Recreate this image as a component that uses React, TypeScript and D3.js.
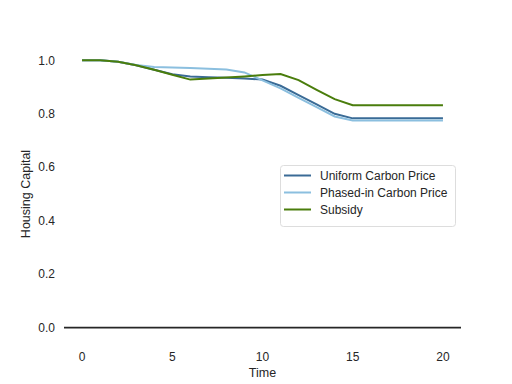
import React, { useRef, useEffect } from 'react'
import * as d3 from 'd3'

// time steps 0..20
const time = [0, 1, 2, 3, 4, 5, 6, 7, 8, 9, 10, 11, 12, 13, 14, 15, 16, 17, 18, 19, 20]
const uniform = [1.0, 1.0, 0.995, 0.982, 0.965, 0.948, 0.94, 0.937, 0.935, 0.932, 0.928, 0.905, 0.87, 0.835, 0.8, 0.783, 0.783, 0.783, 0.783, 0.783, 0.783]
const phased = [1.0, 1.0, 0.995, 0.983, 0.975, 0.973, 0.971, 0.969, 0.966, 0.955, 0.925, 0.895, 0.86, 0.825, 0.79, 0.775, 0.775, 0.775, 0.775, 0.775, 0.775]
const subsidy = [1.0, 1.0, 0.995, 0.982, 0.965, 0.946, 0.928, 0.932, 0.936, 0.94, 0.945, 0.949, 0.926, 0.89, 0.855, 0.832, 0.832, 0.832, 0.832, 0.832, 0.832]
const seriesNames = ['Uniform Carbon Price', 'Phased-in Carbon Price', 'Subsidy']
const seriesColors = ['#3a6b96', '#8bbfdf', '#4a7d0c']
const xTicks = [0, 5, 10, 15, 20]
const yTicks = [0, 0.2, 0.4, 0.6, 0.8, 1.0]

const App = () => {
  const svgRef = useRef<SVGSVGElement>(null)

  useEffect(() => {
    const width = 512
    const height = 384
    const left = 64, right = 461, top = 47, bottom = 341
    const font = 'Liberation Sans, Arial, sans-serif'

    const svg = d3.select(svgRef.current)
    svg.selectAll('*').remove()

    const x = d3.scaleLinear().domain([-1, 21]).range([left, right])
    const y = d3.scaleLinear().domain([-0.05, 1.05]).range([bottom, top])

    svg.append('rect').attr('width', width).attr('height', height).attr('fill', 'white')

    // ticks
    svg.append('g')
      .selectAll('text')
      .data(xTicks)
      .join('text')
      .attr('x', d => x(d))
      .attr('y', 361)
      .attr('text-anchor', 'middle')
      .attr('font-family', font)
      .attr('font-size', 12)
      .attr('fill', '#262626')
      .text(d => d)

    svg.append('g')
      .selectAll('text')
      .data(yTicks)
      .join('text')
      .attr('x', 55)
      .attr('y', d => y(d))
      .attr('dy', '0.35em')
      .attr('text-anchor', 'end')
      .attr('font-family', font)
      .attr('font-size', 12)
      .attr('fill', '#262626')
      .text(d => d3.format('.1f')(d))

    svg.append('text')
      .attr('x', (left + right) / 2)
      .attr('y', 377)
      .attr('text-anchor', 'middle')
      .attr('font-family', font)
      .attr('font-size', 12.5)
      .attr('fill', '#262626')
      .text('Time')

    svg.append('text')
      .attr('transform', `translate(30,${(top + bottom) / 2}) rotate(-90)`)
      .attr('text-anchor', 'middle')
      .attr('font-family', font)
      .attr('font-size', 12.5)
      .attr('fill', '#262626')
      .text('Housing Capital')

    // zero line
    svg.append('line')
      .attr('x1', left).attr('x2', right)
      .attr('y1', y(0)).attr('y2', y(0))
      .attr('stroke', '#262626')
      .attr('stroke-width', 1.8)

    const allSeries = [uniform, phased, subsidy]
    const line = d3.line<number>()
      .x((_, i) => x(time[i]))
      .y(d => y(d))

    allSeries.forEach((s, i) => {
      svg.append('path')
        .datum(s)
        .attr('fill', 'none')
        .attr('stroke', seriesColors[i])
        .attr('stroke-width', 2)
        .attr('d', line)
    })

    // legend
    const lg = svg.append('g').attr('transform', 'translate(280,165)')
    lg.append('rect')
      .attr('x', 0.5).attr('y', 0.5)
      .attr('width', 175).attr('height', 61)
      .attr('rx', 3)
      .attr('fill', 'white')
      .attr('stroke', '#dddddd')
    seriesNames.forEach((name, i) => {
      const yy = 10.5 + i * 17
      lg.append('line')
        .attr('x1', 4).attr('x2', 31)
        .attr('y1', yy).attr('y2', yy)
        .attr('stroke', seriesColors[i])
        .attr('stroke-width', 2)
      lg.append('text')
        .attr('x', 40).attr('y', yy)
        .attr('dy', '0.35em')
        .attr('font-family', font)
        .attr('font-size', 12)
        .attr('fill', '#262626')
        .text(name)
    })
  }, [])

  return (
    <svg ref={svgRef} width={512} height={384} style={{ position: 'absolute', left: 0, top: 0 }} />
  )
}

export default App
